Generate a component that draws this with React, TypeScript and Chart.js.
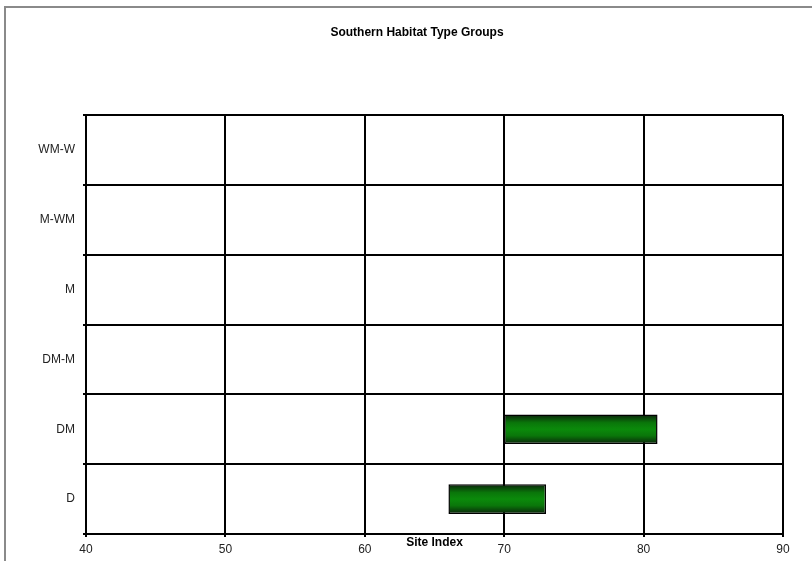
import React, { useEffect, useRef } from "react";
import { Chart, registerables } from "chart.js";

Chart.register(...registerables);

const categories = ["WM-W", "M-WM", "M", "DM-M", "DM", "D"];
const rangeStart = [null, null, null, null, 70, 66];
const rangeEnd = [null, null, null, null, 81, 73];
const xMin = 40;
const xMax = 90;
const xStep = 10;
const chartTitle = "Southern Habitat Type Groups";
const xTitle = "Site Index";

const FONT = "'Liberation Sans', Arial, Helvetica, sans-serif";
const BAR_PCT = 0.425;

const titlePlugin = {
  id: "pageTitle",
  afterDraw(chart: any) {
    const ctx = chart.ctx;
    ctx.save();
    ctx.font = `bold 12px ${FONT}`;
    ctx.fillStyle = "#000000";
    ctx.textAlign = "center";
    ctx.textBaseline = "middle";
    ctx.fillText(chartTitle, 417, 33);
    ctx.restore();
  },
};

export default function App() {
  const ref = useRef<HTMLCanvasElement | null>(null);

  useEffect(() => {
    if (!ref.current) return;
    const data = categories.map((_, i) =>
      rangeStart[i] == null ? null : [rangeStart[i], rangeEnd[i]]
    );
    const chart = new Chart(ref.current, {
      type: "bar",
      data: {
        labels: categories,
        datasets: [
          {
            data: data as any,
            backgroundColor: (ctx: any) => {
              const c = ctx.chart;
              const ys = c.scales && c.scales.y;
              if (!ys || ctx.dataIndex == null) return "#0a880a";
              const center = ys.getPixelForValue(ctx.dataIndex);
              const band = (ys.bottom - ys.top) / categories.length;
              const half = (band * BAR_PCT) / 2;
              const y0 = center - half;
              const y1 = center + half;
              if (!isFinite(y0) || !isFinite(y1) || y0 === y1) return "#0a880a";
              const g = c.ctx.createLinearGradient(0, y0, 0, y1);
              g.addColorStop(0, "#0a220a");
              g.addColorStop(0.28, "#0a760a");
              g.addColorStop(0.5, "#0b8a0b");
              g.addColorStop(0.72, "#0a760a");
              g.addColorStop(1, "#0a220a");
              return g;
            },
            borderColor: "#000000",
            borderWidth: 1.5,
            borderSkipped: false,
            barPercentage: BAR_PCT,
            categoryPercentage: 1,
          },
        ],
      },
      options: {
        indexAxis: "y",
        responsive: false,
        animation: false,
        events: [],
        layout: { padding: { left: 0, right: 29, top: 115, bottom: 0 } },
        plugins: {
          legend: { display: false },
          tooltip: { enabled: false },
          title: { display: false },
        },
        scales: {
          x: {
            type: "linear",
            min: xMin,
            max: xMax,
            ticks: {
              stepSize: xStep,
              color: "#222222",
              font: { family: FONT, size: 12 },
              padding: 5,
            },
            grid: { color: "#000000", lineWidth: 2, tickLength: 3 },
            border: { color: "#000000", width: 2 },
            title: {
              display: true,
              text: xTitle,
              color: "#000000",
              font: { family: FONT, size: 12, weight: "bold" },
              padding: { top: 0, bottom: 11 },
            },
            afterFit: (s: any) => {
              s.height = 27;
            },
          },
          y: {
            type: "category",
            ticks: {
              color: "#222222",
              font: { family: FONT, size: 12 },
              padding: 8,
            },
            grid: { color: "#000000", lineWidth: 2, tickLength: 3, offset: true },
            border: { color: "#000000", width: 2 },
            afterFit: (s: any) => {
              s.width = 86;
            },
          },
        },
      },
      plugins: [titlePlugin],
    });
    return () => chart.destroy();
  }, []);

  return (
    <div
      style={{
        position: "fixed",
        left: 0,
        top: 0,
        width: 812,
        height: 561,
        background: "#ffffff",
        overflow: "hidden",
      }}
    >
      <div
        style={{
          position: "absolute",
          left: 4,
          top: 6,
          width: 900,
          height: 700,
          borderLeft: "2px solid #8a8a8a",
          borderTop: "2px solid #8a8a8a",
        }}
      />
      <canvas
        ref={ref}
        width={812}
        height={561}
        style={{ position: "absolute", left: 0, top: 0, width: 812, height: 561 }}
      />
    </div>
  );
}
